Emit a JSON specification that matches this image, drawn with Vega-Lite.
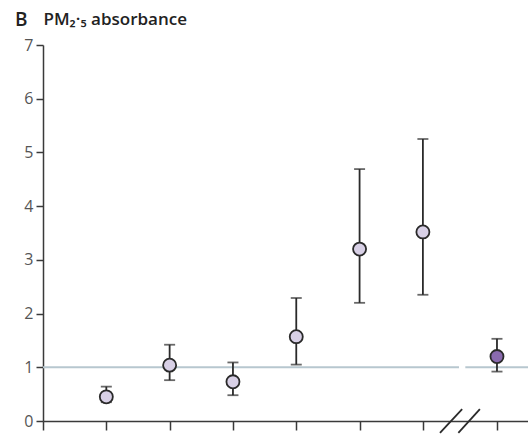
{
  "$schema": "https://vega.github.io/schema/vega-lite/v6.json",
  "autosize": {"type": "none"},
  "padding": {"left": 43, "top": 45, "right": 0, "bottom": 13},
  "width": 485,
  "height": 376,
  "title": {
    "text": "B",
    "anchor": "start",
    "frame": "group",
    "dx": -28,
    "dy": 35,
    "offset": 0,
    "baseline": "alphabetic",
    "font": "Open Sans",
    "fontSize": 19,
    "fontWeight": 600,
    "color": "#222"
  },
  "config": {
    "view": {"stroke": null},
    "axis": {"grid": false, "domainColor": "#3a3a3a", "domainWidth": 1.5, "tickColor": "#3a3a3a", "tickWidth": 1.5, "labelFont": "Open Sans", "labelFontSize": 16, "labelColor": "#555"}
  },
  "datasets": {
    "pts": [
      {"g": 1, "est": 0.45, "lo": 0.35, "hi": 0.64, "grp": "a"},
      {"g": 2, "est": 1.04, "lo": 0.76, "hi": 1.42, "grp": "a"},
      {"g": 3, "est": 0.73, "lo": 0.48, "hi": 1.09, "grp": "a"},
      {"g": 4, "est": 1.57, "lo": 1.05, "hi": 2.29, "grp": "a"},
      {"g": 5, "est": 3.2, "lo": 2.2, "hi": 4.69, "grp": "a"},
      {"g": 6, "est": 3.52, "lo": 2.35, "hi": 5.25, "grp": "a"},
      {"g": 7.17, "est": 1.2, "lo": 0.92, "hi": 1.53, "grp": "b"}
    ],
    "ref": [
      {"x1": 0, "x2": 6.57, "y": 1},
      {"x1": 6.67, "x2": 7.66, "y": 1}
    ],
    "brk": [
      {"x1": 6.27, "x2": 6.62, "y1": -0.22, "y2": 0.22},
      {"x1": 6.56, "x2": 6.9, "y1": -0.22, "y2": 0.22}
    ]
  },
  "layer": [
    {
      "data": {"name": "ref"},
      "mark": {"type": "rule", "color": "#b7c7cf", "strokeWidth": 2},
      "encoding": {
        "x": {"field": "x1", "type": "quantitative", "scale": {"domain": [0, 7.66], "nice": false, "zero": false},
          "axis": {"values": [0, 1, 2, 3, 4, 5, 6, 7.17], "labels": false, "tickSize": 9, "title": null}},
        "x2": {"field": "x2"},
        "y": {"field": "y", "type": "quantitative", "scale": {"domain": [0, 7], "nice": false},
          "axis": {"values": [0, 1, 2, 3, 4, 5, 6, 7], "format": "d", "tickSize": 7, "labelPadding": 3,
            "title": "PM₂·₅ absorbance", "titleAngle": 0, "titleX": 0, "titleY": -21, "titleAlign": "left", "titleBaseline": "alphabetic",
            "titleFont": "Open Sans", "titleFontSize": 17, "titleFontWeight": 600, "titleColor": "#222"}}
      }
    },
    {
      "data": {"name": "brk"},
      "mark": {"type": "rule", "color": "#2a2a2a", "strokeWidth": 1.8},
      "encoding": {
        "x": {"field": "x1", "type": "quantitative"},
        "x2": {"field": "x2"},
        "y": {"field": "y1", "type": "quantitative"},
        "y2": {"field": "y2"}
      }
    },
    {
      "data": {"name": "pts"},
      "mark": {"type": "rule", "color": "#2a2a2a", "strokeWidth": 1.8},
      "encoding": {
        "x": {"field": "g", "type": "quantitative"},
        "y": {"field": "lo", "type": "quantitative"},
        "y2": {"field": "hi"}
      }
    },
    {
      "data": {"name": "pts"},
      "mark": {"type": "tick", "orient": "horizontal", "color": "#2a2a2a", "thickness": 1.8, "size": 11},
      "encoding": {
        "x": {"field": "g", "type": "quantitative"},
        "y": {"field": "lo", "type": "quantitative"}
      }
    },
    {
      "data": {"name": "pts"},
      "mark": {"type": "tick", "orient": "horizontal", "color": "#2a2a2a", "thickness": 1.8, "size": 11},
      "encoding": {
        "x": {"field": "g", "type": "quantitative"},
        "y": {"field": "hi", "type": "quantitative"}
      }
    },
    {
      "data": {"name": "pts"},
      "mark": {"type": "point", "shape": "circle", "filled": true, "size": 170, "stroke": "#2a2a2a", "strokeWidth": 1.8, "opacity": 1},
      "encoding": {
        "x": {"field": "g", "type": "quantitative"},
        "y": {"field": "est", "type": "quantitative"},
        "fill": {"field": "grp", "type": "nominal", "scale": {"domain": ["a", "b"], "range": ["#d8d0e6", "#8a6aaf"]}, "legend": null}
      }
    }
  ]
}
